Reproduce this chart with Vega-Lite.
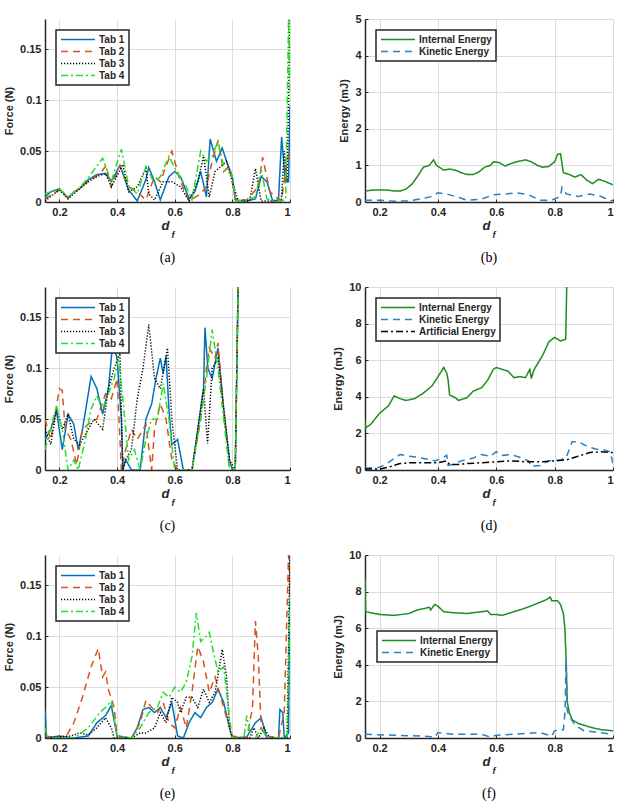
{
"$schema": "https://vega.github.io/schema/vega-lite/v6.json",
"background": "white",
"padding": {"left": 3, "top": 13, "right": 5, "bottom": 5},
"columns": 2,
"spacing": {"row": 85, "column": 75},
"bounds": "flush",
"align": "each",
"resolve": {"scale": {"color": "independent", "strokeDash": "independent"}, "legend": {"color": "independent", "strokeDash": "independent"}},
"datasets": {
"a": [
{"s":"Tab 1","x":0.15,"y":0.005},{"s":"Tab 1","x":0.17,"y":0.01},{"s":"Tab 1","x":0.2,"y":0.013},{"s":"Tab 1","x":0.23,"y":0.004},{"s":"Tab 1","x":0.25,"y":0.01},{"s":"Tab 1","x":0.27,"y":0.013},{"s":"Tab 1","x":0.3,"y":0.022},{"s":"Tab 1","x":0.33,"y":0.027},{"s":"Tab 1","x":0.36,"y":0.028},{"s":"Tab 1","x":0.38,"y":0.02},{"s":"Tab 1","x":0.41,"y":0.036},{"s":"Tab 1","x":0.44,"y":0.012},{"s":"Tab 1","x":0.47,"y":0.001},{"s":"Tab 1","x":0.5,"y":0.022},{"s":"Tab 1","x":0.51,"y":0.034},{"s":"Tab 1","x":0.53,"y":0.02},{"s":"Tab 1","x":0.55,"y":0.002},{"s":"Tab 1","x":0.58,"y":0.025},{"s":"Tab 1","x":0.6,"y":0.03},{"s":"Tab 1","x":0.62,"y":0.025},{"s":"Tab 1","x":0.65,"y":0.003},{"s":"Tab 1","x":0.67,"y":0.01},{"s":"Tab 1","x":0.69,"y":0.03},{"s":"Tab 1","x":0.71,"y":0.005},{"s":"Tab 1","x":0.723,"y":0.062},{"s":"Tab 1","x":0.745,"y":0.04},{"s":"Tab 1","x":0.765,"y":0.053},{"s":"Tab 1","x":0.78,"y":0.04},{"s":"Tab 1","x":0.8,"y":0.025},{"s":"Tab 1","x":0.81,"y":0.002},{"s":"Tab 1","x":0.85,"y":0.001},{"s":"Tab 1","x":0.88,"y":0.003},{"s":"Tab 1","x":0.9,"y":0.025},{"s":"Tab 1","x":0.92,"y":0.02},{"s":"Tab 1","x":0.94,"y":0.001},{"s":"Tab 1","x":0.96,"y":0.002},{"s":"Tab 1","x":0.971,"y":0.064},{"s":"Tab 1","x":0.984,"y":0.02},{"s":"Tab 1","x":0.995,"y":0.02},{"s":"Tab 1","x":1.0,"y":0.095},
{"s":"Tab 2","x":0.15,"y":0.003},{"s":"Tab 2","x":0.2,"y":0.012},{"s":"Tab 2","x":0.23,"y":0.004},{"s":"Tab 2","x":0.27,"y":0.014},{"s":"Tab 2","x":0.3,"y":0.02},{"s":"Tab 2","x":0.34,"y":0.028},{"s":"Tab 2","x":0.36,"y":0.035},{"s":"Tab 2","x":0.38,"y":0.015},{"s":"Tab 2","x":0.41,"y":0.035},{"s":"Tab 2","x":0.44,"y":0.015},{"s":"Tab 2","x":0.47,"y":0.01},{"s":"Tab 2","x":0.5,"y":0.002},{"s":"Tab 2","x":0.53,"y":0.025},{"s":"Tab 2","x":0.55,"y":0.02},{"s":"Tab 2","x":0.59,"y":0.05},{"s":"Tab 2","x":0.62,"y":0.02},{"s":"Tab 2","x":0.65,"y":0.001},{"s":"Tab 2","x":0.69,"y":0.008},{"s":"Tab 2","x":0.71,"y":0.015},{"s":"Tab 2","x":0.73,"y":0.04},{"s":"Tab 2","x":0.75,"y":0.06},{"s":"Tab 2","x":0.77,"y":0.03},{"s":"Tab 2","x":0.79,"y":0.035},{"s":"Tab 2","x":0.81,"y":0.003},{"s":"Tab 2","x":0.85,"y":0.002},{"s":"Tab 2","x":0.89,"y":0.015},{"s":"Tab 2","x":0.905,"y":0.044},{"s":"Tab 2","x":0.93,"y":0.01},{"s":"Tab 2","x":0.95,"y":0.005},{"s":"Tab 2","x":0.97,"y":0.001},{"s":"Tab 2","x":0.99,"y":0.04},{"s":"Tab 2","x":1.0,"y":0.05},
{"s":"Tab 3","x":0.15,"y":0.001},{"s":"Tab 3","x":0.2,"y":0.012},{"s":"Tab 3","x":0.23,"y":0.003},{"s":"Tab 3","x":0.27,"y":0.013},{"s":"Tab 3","x":0.3,"y":0.02},{"s":"Tab 3","x":0.33,"y":0.025},{"s":"Tab 3","x":0.36,"y":0.028},{"s":"Tab 3","x":0.38,"y":0.015},{"s":"Tab 3","x":0.42,"y":0.037},{"s":"Tab 3","x":0.44,"y":0.01},{"s":"Tab 3","x":0.47,"y":0.015},{"s":"Tab 3","x":0.5,"y":0.033},{"s":"Tab 3","x":0.51,"y":0.008},{"s":"Tab 3","x":0.53,"y":0.002},{"s":"Tab 3","x":0.56,"y":0.02},{"s":"Tab 3","x":0.59,"y":0.02},{"s":"Tab 3","x":0.62,"y":0.015},{"s":"Tab 3","x":0.65,"y":0.001},{"s":"Tab 3","x":0.68,"y":0.02},{"s":"Tab 3","x":0.7,"y":0.045},{"s":"Tab 3","x":0.72,"y":0.005},{"s":"Tab 3","x":0.74,"y":0.03},{"s":"Tab 3","x":0.76,"y":0.035},{"s":"Tab 3","x":0.78,"y":0.04},{"s":"Tab 3","x":0.8,"y":0.02},{"s":"Tab 3","x":0.82,"y":0.001},{"s":"Tab 3","x":0.86,"y":0.001},{"s":"Tab 3","x":0.88,"y":0.033},{"s":"Tab 3","x":0.9,"y":0.001},{"s":"Tab 3","x":0.93,"y":0.001},{"s":"Tab 3","x":0.97,"y":0.001},{"s":"Tab 3","x":0.98,"y":0.05},{"s":"Tab 3","x":0.99,"y":0.02},{"s":"Tab 3","x":1.0,"y":0.18},
{"s":"Tab 4","x":0.15,"y":0.008},{"s":"Tab 4","x":0.2,"y":0.013},{"s":"Tab 4","x":0.23,"y":0.005},{"s":"Tab 4","x":0.27,"y":0.014},{"s":"Tab 4","x":0.3,"y":0.024},{"s":"Tab 4","x":0.35,"y":0.043},{"s":"Tab 4","x":0.38,"y":0.02},{"s":"Tab 4","x":0.415,"y":0.052},{"s":"Tab 4","x":0.44,"y":0.016},{"s":"Tab 4","x":0.47,"y":0.008},{"s":"Tab 4","x":0.5,"y":0.035},{"s":"Tab 4","x":0.53,"y":0.018},{"s":"Tab 4","x":0.55,"y":0.025},{"s":"Tab 4","x":0.58,"y":0.045},{"s":"Tab 4","x":0.61,"y":0.028},{"s":"Tab 4","x":0.64,"y":0.015},{"s":"Tab 4","x":0.66,"y":0.002},{"s":"Tab 4","x":0.69,"y":0.05},{"s":"Tab 4","x":0.71,"y":0.04},{"s":"Tab 4","x":0.73,"y":0.045},{"s":"Tab 4","x":0.75,"y":0.06},{"s":"Tab 4","x":0.77,"y":0.035},{"s":"Tab 4","x":0.8,"y":0.025},{"s":"Tab 4","x":0.81,"y":0.001},{"s":"Tab 4","x":0.85,"y":0.002},{"s":"Tab 4","x":0.88,"y":0.005},{"s":"Tab 4","x":0.9,"y":0.032},{"s":"Tab 4","x":0.92,"y":0.003},{"s":"Tab 4","x":0.96,"y":0.001},{"s":"Tab 4","x":0.985,"y":0.002},{"s":"Tab 4","x":0.995,"y":0.18},{"s":"Tab 4","x":1.0,"y":0.1}
],
"b": [
{"s":"Internal Energy","x":0.15,"y":0.3},{"s":"Internal Energy","x":0.18,"y":0.33},{"s":"Internal Energy","x":0.22,"y":0.33},{"s":"Internal Energy","x":0.25,"y":0.3},{"s":"Internal Energy","x":0.27,"y":0.3},{"s":"Internal Energy","x":0.29,"y":0.35},{"s":"Internal Energy","x":0.31,"y":0.48},{"s":"Internal Energy","x":0.33,"y":0.7},{"s":"Internal Energy","x":0.35,"y":0.95},{"s":"Internal Energy","x":0.37,"y":1.0},{"s":"Internal Energy","x":0.385,"y":1.15},{"s":"Internal Energy","x":0.395,"y":1.0},{"s":"Internal Energy","x":0.42,"y":0.87},{"s":"Internal Energy","x":0.44,"y":0.9},{"s":"Internal Energy","x":0.46,"y":0.87},{"s":"Internal Energy","x":0.48,"y":0.8},{"s":"Internal Energy","x":0.5,"y":0.75},{"s":"Internal Energy","x":0.52,"y":0.75},{"s":"Internal Energy","x":0.54,"y":0.82},{"s":"Internal Energy","x":0.56,"y":0.95},{"s":"Internal Energy","x":0.58,"y":1.0},{"s":"Internal Energy","x":0.59,"y":1.1},{"s":"Internal Energy","x":0.61,"y":1.08},{"s":"Internal Energy","x":0.63,"y":0.98},{"s":"Internal Energy","x":0.65,"y":1.05},{"s":"Internal Energy","x":0.67,"y":1.1},{"s":"Internal Energy","x":0.7,"y":1.15},{"s":"Internal Energy","x":0.72,"y":1.1},{"s":"Internal Energy","x":0.74,"y":1.0},{"s":"Internal Energy","x":0.76,"y":0.95},{"s":"Internal Energy","x":0.78,"y":0.97},{"s":"Internal Energy","x":0.8,"y":1.1},{"s":"Internal Energy","x":0.81,"y":1.3},{"s":"Internal Energy","x":0.82,"y":1.32},{"s":"Internal Energy","x":0.83,"y":0.8},{"s":"Internal Energy","x":0.85,"y":0.75},{"s":"Internal Energy","x":0.87,"y":0.68},{"s":"Internal Energy","x":0.89,"y":0.75},{"s":"Internal Energy","x":0.91,"y":0.6},{"s":"Internal Energy","x":0.93,"y":0.5},{"s":"Internal Energy","x":0.95,"y":0.62},{"s":"Internal Energy","x":0.97,"y":0.57},{"s":"Internal Energy","x":1.0,"y":0.47},
{"s":"Kinetic Energy","x":0.15,"y":0.05},{"s":"Kinetic Energy","x":0.2,"y":0.05},{"s":"Kinetic Energy","x":0.25,"y":0.02},{"s":"Kinetic Energy","x":0.3,"y":0.03},{"s":"Kinetic Energy","x":0.35,"y":0.1},{"s":"Kinetic Energy","x":0.38,"y":0.15},{"s":"Kinetic Energy","x":0.4,"y":0.25},{"s":"Kinetic Energy","x":0.43,"y":0.22},{"s":"Kinetic Energy","x":0.46,"y":0.15},{"s":"Kinetic Energy","x":0.5,"y":0.05},{"s":"Kinetic Energy","x":0.55,"y":0.08},{"s":"Kinetic Energy","x":0.59,"y":0.2},{"s":"Kinetic Energy","x":0.63,"y":0.22},{"s":"Kinetic Energy","x":0.67,"y":0.25},{"s":"Kinetic Energy","x":0.71,"y":0.2},{"s":"Kinetic Energy","x":0.75,"y":0.05},{"s":"Kinetic Energy","x":0.79,"y":0.05},{"s":"Kinetic Energy","x":0.81,"y":0.12},{"s":"Kinetic Energy","x":0.82,"y":0.15},{"s":"Kinetic Energy","x":0.825,"y":0.4},{"s":"Kinetic Energy","x":0.84,"y":0.22},{"s":"Kinetic Energy","x":0.88,"y":0.15},{"s":"Kinetic Energy","x":0.92,"y":0.22},{"s":"Kinetic Energy","x":0.96,"y":0.15},{"s":"Kinetic Energy","x":0.99,"y":0.03},{"s":"Kinetic Energy","x":1.0,"y":0.05}
],
"c": [
{"s":"Tab 1","x":0.15,"y":0.03},{"s":"Tab 1","x":0.17,"y":0.04},{"s":"Tab 1","x":0.19,"y":0.058},{"s":"Tab 1","x":0.21,"y":0.02},{"s":"Tab 1","x":0.23,"y":0.055},{"s":"Tab 1","x":0.25,"y":0.045},{"s":"Tab 1","x":0.265,"y":0.02},{"s":"Tab 1","x":0.28,"y":0.04},{"s":"Tab 1","x":0.31,"y":0.092},{"s":"Tab 1","x":0.33,"y":0.08},{"s":"Tab 1","x":0.35,"y":0.055},{"s":"Tab 1","x":0.37,"y":0.08},{"s":"Tab 1","x":0.385,"y":0.125},{"s":"Tab 1","x":0.4,"y":0.11},{"s":"Tab 1","x":0.415,"y":0.05},{"s":"Tab 1","x":0.42,"y":0.0},{"s":"Tab 1","x":0.43,"y":0.01},{"s":"Tab 1","x":0.45,"y":0.0},{"s":"Tab 1","x":0.48,"y":0.0},{"s":"Tab 1","x":0.5,"y":0.05},{"s":"Tab 1","x":0.52,"y":0.065},{"s":"Tab 1","x":0.535,"y":0.09},{"s":"Tab 1","x":0.55,"y":0.11},{"s":"Tab 1","x":0.56,"y":0.095},{"s":"Tab 1","x":0.57,"y":0.112},{"s":"Tab 1","x":0.58,"y":0.06},{"s":"Tab 1","x":0.59,"y":0.025},{"s":"Tab 1","x":0.61,"y":0.03},{"s":"Tab 1","x":0.63,"y":0.0},{"s":"Tab 1","x":0.66,"y":0.0},{"s":"Tab 1","x":0.68,"y":0.04},{"s":"Tab 1","x":0.7,"y":0.08},{"s":"Tab 1","x":0.705,"y":0.14},{"s":"Tab 1","x":0.715,"y":0.1},{"s":"Tab 1","x":0.73,"y":0.09},{"s":"Tab 1","x":0.75,"y":0.12},{"s":"Tab 1","x":0.77,"y":0.06},{"s":"Tab 1","x":0.79,"y":0.01},{"s":"Tab 1","x":0.8,"y":0.0},{"s":"Tab 1","x":0.81,"y":0.0},{"s":"Tab 1","x":0.82,"y":0.18},
{"s":"Tab 2","x":0.15,"y":0.05},{"s":"Tab 2","x":0.17,"y":0.03},{"s":"Tab 2","x":0.2,"y":0.08},{"s":"Tab 2","x":0.21,"y":0.078},{"s":"Tab 2","x":0.22,"y":0.04},{"s":"Tab 2","x":0.24,"y":0.03},{"s":"Tab 2","x":0.26,"y":0.005},{"s":"Tab 2","x":0.28,"y":0.04},{"s":"Tab 2","x":0.3,"y":0.045},{"s":"Tab 2","x":0.33,"y":0.05},{"s":"Tab 2","x":0.36,"y":0.075},{"s":"Tab 2","x":0.38,"y":0.07},{"s":"Tab 2","x":0.4,"y":0.09},{"s":"Tab 2","x":0.415,"y":0.0},{"s":"Tab 2","x":0.43,"y":0.02},{"s":"Tab 2","x":0.45,"y":0.04},{"s":"Tab 2","x":0.47,"y":0.03},{"s":"Tab 2","x":0.5,"y":0.045},{"s":"Tab 2","x":0.52,"y":0.0},{"s":"Tab 2","x":0.53,"y":0.04},{"s":"Tab 2","x":0.55,"y":0.065},{"s":"Tab 2","x":0.57,"y":0.05},{"s":"Tab 2","x":0.59,"y":0.01},{"s":"Tab 2","x":0.61,"y":0.0},{"s":"Tab 2","x":0.66,"y":0.0},{"s":"Tab 2","x":0.69,"y":0.05},{"s":"Tab 2","x":0.71,"y":0.1},{"s":"Tab 2","x":0.72,"y":0.12},{"s":"Tab 2","x":0.74,"y":0.11},{"s":"Tab 2","x":0.75,"y":0.125},{"s":"Tab 2","x":0.77,"y":0.06},{"s":"Tab 2","x":0.79,"y":0.0},{"s":"Tab 2","x":0.81,"y":0.0},{"s":"Tab 2","x":0.82,"y":0.18},
{"s":"Tab 3","x":0.15,"y":0.04},{"s":"Tab 3","x":0.17,"y":0.025},{"s":"Tab 3","x":0.19,"y":0.06},{"s":"Tab 3","x":0.21,"y":0.04},{"s":"Tab 3","x":0.23,"y":0.055},{"s":"Tab 3","x":0.25,"y":0.03},{"s":"Tab 3","x":0.27,"y":0.025},{"s":"Tab 3","x":0.3,"y":0.04},{"s":"Tab 3","x":0.32,"y":0.05},{"s":"Tab 3","x":0.35,"y":0.04},{"s":"Tab 3","x":0.37,"y":0.08},{"s":"Tab 3","x":0.39,"y":0.1},{"s":"Tab 3","x":0.41,"y":0.115},{"s":"Tab 3","x":0.42,"y":0.0},{"s":"Tab 3","x":0.43,"y":0.01},{"s":"Tab 3","x":0.45,"y":0.02},{"s":"Tab 3","x":0.47,"y":0.07},{"s":"Tab 3","x":0.49,"y":0.1},{"s":"Tab 3","x":0.51,"y":0.143},{"s":"Tab 3","x":0.53,"y":0.09},{"s":"Tab 3","x":0.55,"y":0.08},{"s":"Tab 3","x":0.575,"y":0.12},{"s":"Tab 3","x":0.59,"y":0.05},{"s":"Tab 3","x":0.61,"y":0.0},{"s":"Tab 3","x":0.66,"y":0.0},{"s":"Tab 3","x":0.68,"y":0.04},{"s":"Tab 3","x":0.7,"y":0.08},{"s":"Tab 3","x":0.714,"y":0.026},{"s":"Tab 3","x":0.73,"y":0.1},{"s":"Tab 3","x":0.75,"y":0.11},{"s":"Tab 3","x":0.77,"y":0.06},{"s":"Tab 3","x":0.79,"y":0.01},{"s":"Tab 3","x":0.81,"y":0.0},{"s":"Tab 3","x":0.82,"y":0.18},
{"s":"Tab 4","x":0.15,"y":0.02},{"s":"Tab 4","x":0.19,"y":0.063},{"s":"Tab 4","x":0.21,"y":0.04},{"s":"Tab 4","x":0.23,"y":0.0},{"s":"Tab 4","x":0.25,"y":0.01},{"s":"Tab 4","x":0.265,"y":0.0},{"s":"Tab 4","x":0.29,"y":0.03},{"s":"Tab 4","x":0.31,"y":0.06},{"s":"Tab 4","x":0.33,"y":0.073},{"s":"Tab 4","x":0.35,"y":0.06},{"s":"Tab 4","x":0.37,"y":0.075},{"s":"Tab 4","x":0.39,"y":0.09},{"s":"Tab 4","x":0.405,"y":0.11},{"s":"Tab 4","x":0.42,"y":0.07},{"s":"Tab 4","x":0.44,"y":0.01},{"s":"Tab 4","x":0.46,"y":0.02},{"s":"Tab 4","x":0.48,"y":0.0},{"s":"Tab 4","x":0.5,"y":0.03},{"s":"Tab 4","x":0.52,"y":0.05},{"s":"Tab 4","x":0.54,"y":0.05},{"s":"Tab 4","x":0.56,"y":0.085},{"s":"Tab 4","x":0.58,"y":0.05},{"s":"Tab 4","x":0.6,"y":0.0},{"s":"Tab 4","x":0.66,"y":0.0},{"s":"Tab 4","x":0.69,"y":0.05},{"s":"Tab 4","x":0.71,"y":0.09},{"s":"Tab 4","x":0.73,"y":0.138},{"s":"Tab 4","x":0.75,"y":0.1},{"s":"Tab 4","x":0.77,"y":0.05},{"s":"Tab 4","x":0.79,"y":0.0},{"s":"Tab 4","x":0.81,"y":0.0},{"s":"Tab 4","x":0.82,"y":0.18}
],
"d": [
{"s":"Internal Energy","x":0.15,"y":2.7},{"s":"Internal Energy","x":0.152,"y":2.3},{"s":"Internal Energy","x":0.17,"y":2.5},{"s":"Internal Energy","x":0.2,"y":3.1},{"s":"Internal Energy","x":0.23,"y":3.5},{"s":"Internal Energy","x":0.25,"y":4.05},{"s":"Internal Energy","x":0.27,"y":3.9},{"s":"Internal Energy","x":0.29,"y":3.8},{"s":"Internal Energy","x":0.32,"y":3.9},{"s":"Internal Energy","x":0.35,"y":4.2},{"s":"Internal Energy","x":0.38,"y":4.6},{"s":"Internal Energy","x":0.4,"y":5.1},{"s":"Internal Energy","x":0.42,"y":5.6},{"s":"Internal Energy","x":0.43,"y":5.3},{"s":"Internal Energy","x":0.435,"y":4.9},{"s":"Internal Energy","x":0.44,"y":4.1},{"s":"Internal Energy","x":0.46,"y":3.95},{"s":"Internal Energy","x":0.47,"y":3.8},{"s":"Internal Energy","x":0.5,"y":3.95},{"s":"Internal Energy","x":0.52,"y":4.3},{"s":"Internal Energy","x":0.55,"y":4.5},{"s":"Internal Energy","x":0.57,"y":4.9},{"s":"Internal Energy","x":0.59,"y":5.5},{"s":"Internal Energy","x":0.6,"y":5.6},{"s":"Internal Energy","x":0.62,"y":5.5},{"s":"Internal Energy","x":0.64,"y":5.4},{"s":"Internal Energy","x":0.66,"y":5.05},{"s":"Internal Energy","x":0.68,"y":5.1},{"s":"Internal Energy","x":0.7,"y":5.05},{"s":"Internal Energy","x":0.715,"y":5.5},{"s":"Internal Energy","x":0.72,"y":5.0},{"s":"Internal Energy","x":0.73,"y":5.5},{"s":"Internal Energy","x":0.76,"y":6.3},{"s":"Internal Energy","x":0.78,"y":7.0},{"s":"Internal Energy","x":0.8,"y":7.25},{"s":"Internal Energy","x":0.82,"y":7.05},{"s":"Internal Energy","x":0.838,"y":7.15},{"s":"Internal Energy","x":0.842,"y":10.5},
{"s":"Kinetic Energy","x":0.15,"y":0.1},{"s":"Kinetic Energy","x":0.2,"y":0.15},{"s":"Kinetic Energy","x":0.22,"y":0.3},{"s":"Kinetic Energy","x":0.27,"y":0.85},{"s":"Kinetic Energy","x":0.3,"y":0.75},{"s":"Kinetic Energy","x":0.33,"y":0.7},{"s":"Kinetic Energy","x":0.36,"y":0.6},{"s":"Kinetic Energy","x":0.39,"y":0.5},{"s":"Kinetic Energy","x":0.42,"y":0.7},{"s":"Kinetic Energy","x":0.43,"y":0.8},{"s":"Kinetic Energy","x":0.435,"y":0.25},{"s":"Kinetic Energy","x":0.45,"y":0.3},{"s":"Kinetic Energy","x":0.48,"y":0.5},{"s":"Kinetic Energy","x":0.52,"y":0.65},{"s":"Kinetic Energy","x":0.55,"y":0.85},{"s":"Kinetic Energy","x":0.58,"y":0.75},{"s":"Kinetic Energy","x":0.6,"y":1.0},{"s":"Kinetic Energy","x":0.62,"y":0.8},{"s":"Kinetic Energy","x":0.65,"y":0.85},{"s":"Kinetic Energy","x":0.68,"y":0.7},{"s":"Kinetic Energy","x":0.71,"y":0.5},{"s":"Kinetic Energy","x":0.72,"y":0.2},{"s":"Kinetic Energy","x":0.75,"y":0.25},{"s":"Kinetic Energy","x":0.78,"y":0.5},{"s":"Kinetic Energy","x":0.82,"y":0.55},{"s":"Kinetic Energy","x":0.84,"y":0.7},{"s":"Kinetic Energy","x":0.86,"y":1.55},{"s":"Kinetic Energy","x":0.88,"y":1.55},{"s":"Kinetic Energy","x":0.91,"y":1.3},{"s":"Kinetic Energy","x":0.94,"y":1.15},{"s":"Kinetic Energy","x":0.97,"y":1.1},{"s":"Kinetic Energy","x":0.99,"y":1.0},{"s":"Kinetic Energy","x":1.0,"y":0.35},
{"s":"Artificial Energy","x":0.15,"y":0.05},{"s":"Artificial Energy","x":0.2,"y":0.05},{"s":"Artificial Energy","x":0.23,"y":0.15},{"s":"Artificial Energy","x":0.27,"y":0.35},{"s":"Artificial Energy","x":0.3,"y":0.4},{"s":"Artificial Energy","x":0.35,"y":0.4},{"s":"Artificial Energy","x":0.4,"y":0.4},{"s":"Artificial Energy","x":0.43,"y":0.5},{"s":"Artificial Energy","x":0.44,"y":0.3},{"s":"Artificial Energy","x":0.47,"y":0.3},{"s":"Artificial Energy","x":0.5,"y":0.35},{"s":"Artificial Energy","x":0.55,"y":0.4},{"s":"Artificial Energy","x":0.6,"y":0.45},{"s":"Artificial Energy","x":0.65,"y":0.5},{"s":"Artificial Energy","x":0.7,"y":0.45},{"s":"Artificial Energy","x":0.75,"y":0.45},{"s":"Artificial Energy","x":0.8,"y":0.5},{"s":"Artificial Energy","x":0.84,"y":0.55},{"s":"Artificial Energy","x":0.88,"y":0.75},{"s":"Artificial Energy","x":0.92,"y":0.95},{"s":"Artificial Energy","x":0.96,"y":1.0},{"s":"Artificial Energy","x":1.0,"y":0.95}
],
"e": [
{"s":"Tab 1","x":0.15,"y":0.028},{"s":"Tab 1","x":0.155,"y":0.0},{"s":"Tab 1","x":0.2,"y":0.002},{"s":"Tab 1","x":0.25,"y":0.0},{"s":"Tab 1","x":0.3,"y":0.002},{"s":"Tab 1","x":0.33,"y":0.015},{"s":"Tab 1","x":0.36,"y":0.022},{"s":"Tab 1","x":0.38,"y":0.032},{"s":"Tab 1","x":0.4,"y":0.002},{"s":"Tab 1","x":0.45,"y":0.0},{"s":"Tab 1","x":0.47,"y":0.01},{"s":"Tab 1","x":0.49,"y":0.028},{"s":"Tab 1","x":0.51,"y":0.03},{"s":"Tab 1","x":0.53,"y":0.025},{"s":"Tab 1","x":0.55,"y":0.03},{"s":"Tab 1","x":0.57,"y":0.02},{"s":"Tab 1","x":0.59,"y":0.035},{"s":"Tab 1","x":0.61,"y":0.002},{"s":"Tab 1","x":0.63,"y":0.0},{"s":"Tab 1","x":0.65,"y":0.015},{"s":"Tab 1","x":0.67,"y":0.025},{"s":"Tab 1","x":0.69,"y":0.02},{"s":"Tab 1","x":0.71,"y":0.03},{"s":"Tab 1","x":0.73,"y":0.035},{"s":"Tab 1","x":0.75,"y":0.048},{"s":"Tab 1","x":0.77,"y":0.035},{"s":"Tab 1","x":0.79,"y":0.01},{"s":"Tab 1","x":0.8,"y":0.0},{"s":"Tab 1","x":0.85,"y":0.001},{"s":"Tab 1","x":0.88,"y":0.015},{"s":"Tab 1","x":0.9,"y":0.02},{"s":"Tab 1","x":0.92,"y":0.0},{"s":"Tab 1","x":0.96,"y":0.0},{"s":"Tab 1","x":0.965,"y":0.028},{"s":"Tab 1","x":0.975,"y":0.025},{"s":"Tab 1","x":0.98,"y":0.0},{"s":"Tab 1","x":0.995,"y":0.005},{"s":"Tab 1","x":1.0,"y":0.18},
{"s":"Tab 2","x":0.15,"y":0.002},{"s":"Tab 2","x":0.2,"y":0.0},{"s":"Tab 2","x":0.22,"y":0.0},{"s":"Tab 2","x":0.25,"y":0.015},{"s":"Tab 2","x":0.28,"y":0.04},{"s":"Tab 2","x":0.31,"y":0.07},{"s":"Tab 2","x":0.335,"y":0.088},{"s":"Tab 2","x":0.35,"y":0.06},{"s":"Tab 2","x":0.36,"y":0.065},{"s":"Tab 2","x":0.37,"y":0.048},{"s":"Tab 2","x":0.39,"y":0.03},{"s":"Tab 2","x":0.4,"y":0.002},{"s":"Tab 2","x":0.45,"y":0.0},{"s":"Tab 2","x":0.48,"y":0.015},{"s":"Tab 2","x":0.5,"y":0.037},{"s":"Tab 2","x":0.52,"y":0.03},{"s":"Tab 2","x":0.54,"y":0.025},{"s":"Tab 2","x":0.56,"y":0.035},{"s":"Tab 2","x":0.58,"y":0.015},{"s":"Tab 2","x":0.6,"y":0.01},{"s":"Tab 2","x":0.62,"y":0.03},{"s":"Tab 2","x":0.64,"y":0.01},{"s":"Tab 2","x":0.66,"y":0.045},{"s":"Tab 2","x":0.68,"y":0.09},{"s":"Tab 2","x":0.7,"y":0.075},{"s":"Tab 2","x":0.72,"y":0.045},{"s":"Tab 2","x":0.74,"y":0.06},{"s":"Tab 2","x":0.76,"y":0.04},{"s":"Tab 2","x":0.78,"y":0.02},{"s":"Tab 2","x":0.8,"y":0.002},{"s":"Tab 2","x":0.85,"y":0.0},{"s":"Tab 2","x":0.87,"y":0.03},{"s":"Tab 2","x":0.88,"y":0.115},{"s":"Tab 2","x":0.89,"y":0.08},{"s":"Tab 2","x":0.9,"y":0.01},{"s":"Tab 2","x":0.92,"y":0.002},{"s":"Tab 2","x":0.96,"y":0.0},{"s":"Tab 2","x":0.98,"y":0.025},{"s":"Tab 2","x":0.995,"y":0.18},{"s":"Tab 2","x":1.0,"y":0.14},
{"s":"Tab 3","x":0.15,"y":0.0},{"s":"Tab 3","x":0.24,"y":0.002},{"s":"Tab 3","x":0.27,"y":0.005},{"s":"Tab 3","x":0.3,"y":0.003},{"s":"Tab 3","x":0.33,"y":0.01},{"s":"Tab 3","x":0.36,"y":0.02},{"s":"Tab 3","x":0.38,"y":0.01},{"s":"Tab 3","x":0.39,"y":0.0},{"s":"Tab 3","x":0.45,"y":0.0},{"s":"Tab 3","x":0.48,"y":0.005},{"s":"Tab 3","x":0.5,"y":0.005},{"s":"Tab 3","x":0.53,"y":0.01},{"s":"Tab 3","x":0.55,"y":0.025},{"s":"Tab 3","x":0.57,"y":0.015},{"s":"Tab 3","x":0.59,"y":0.04},{"s":"Tab 3","x":0.61,"y":0.035},{"s":"Tab 3","x":0.62,"y":0.025},{"s":"Tab 3","x":0.64,"y":0.04},{"s":"Tab 3","x":0.66,"y":0.04},{"s":"Tab 3","x":0.68,"y":0.03},{"s":"Tab 3","x":0.7,"y":0.048},{"s":"Tab 3","x":0.72,"y":0.035},{"s":"Tab 3","x":0.74,"y":0.045},{"s":"Tab 3","x":0.765,"y":0.087},{"s":"Tab 3","x":0.78,"y":0.06},{"s":"Tab 3","x":0.79,"y":0.01},{"s":"Tab 3","x":0.8,"y":0.0},{"s":"Tab 3","x":0.86,"y":0.0},{"s":"Tab 3","x":0.875,"y":0.01},{"s":"Tab 3","x":0.89,"y":0.0},{"s":"Tab 3","x":0.91,"y":0.01},{"s":"Tab 3","x":0.93,"y":0.0},{"s":"Tab 3","x":0.99,"y":0.0},{"s":"Tab 3","x":1.0,"y":0.18},
{"s":"Tab 4","x":0.15,"y":0.01},{"s":"Tab 4","x":0.16,"y":0.0},{"s":"Tab 4","x":0.25,"y":0.0},{"s":"Tab 4","x":0.3,"y":0.01},{"s":"Tab 4","x":0.34,"y":0.025},{"s":"Tab 4","x":0.36,"y":0.03},{"s":"Tab 4","x":0.38,"y":0.036},{"s":"Tab 4","x":0.4,"y":0.002},{"s":"Tab 4","x":0.45,"y":0.0},{"s":"Tab 4","x":0.48,"y":0.01},{"s":"Tab 4","x":0.51,"y":0.025},{"s":"Tab 4","x":0.54,"y":0.03},{"s":"Tab 4","x":0.56,"y":0.045},{"s":"Tab 4","x":0.58,"y":0.04},{"s":"Tab 4","x":0.6,"y":0.05},{"s":"Tab 4","x":0.62,"y":0.045},{"s":"Tab 4","x":0.64,"y":0.055},{"s":"Tab 4","x":0.66,"y":0.08},{"s":"Tab 4","x":0.675,"y":0.123},{"s":"Tab 4","x":0.69,"y":0.095},{"s":"Tab 4","x":0.71,"y":0.1},{"s":"Tab 4","x":0.72,"y":0.104},{"s":"Tab 4","x":0.73,"y":0.09},{"s":"Tab 4","x":0.75,"y":0.065},{"s":"Tab 4","x":0.77,"y":0.07},{"s":"Tab 4","x":0.79,"y":0.02},{"s":"Tab 4","x":0.8,"y":0.0},{"s":"Tab 4","x":0.84,"y":0.0},{"s":"Tab 4","x":0.85,"y":0.022},{"s":"Tab 4","x":0.86,"y":0.005},{"s":"Tab 4","x":0.88,"y":0.0},{"s":"Tab 4","x":0.9,"y":0.01},{"s":"Tab 4","x":0.92,"y":0.0},{"s":"Tab 4","x":0.99,"y":0.0},{"s":"Tab 4","x":1.0,"y":0.14}
],
"f": [
{"s":"Internal Energy","x":0.15,"y":8.7},{"s":"Internal Energy","x":0.152,"y":6.9},{"s":"Internal Energy","x":0.2,"y":6.75},{"s":"Internal Energy","x":0.25,"y":6.7},{"s":"Internal Energy","x":0.3,"y":6.8},{"s":"Internal Energy","x":0.33,"y":7.0},{"s":"Internal Energy","x":0.36,"y":7.1},{"s":"Internal Energy","x":0.37,"y":7.15},{"s":"Internal Energy","x":0.375,"y":7.0},{"s":"Internal Energy","x":0.389,"y":7.3},{"s":"Internal Energy","x":0.4,"y":7.2},{"s":"Internal Energy","x":0.42,"y":6.9},{"s":"Internal Energy","x":0.45,"y":6.85},{"s":"Internal Energy","x":0.5,"y":6.8},{"s":"Internal Energy","x":0.52,"y":6.85},{"s":"Internal Energy","x":0.55,"y":6.9},{"s":"Internal Energy","x":0.57,"y":6.95},{"s":"Internal Energy","x":0.58,"y":6.75},{"s":"Internal Energy","x":0.6,"y":6.75},{"s":"Internal Energy","x":0.62,"y":6.7},{"s":"Internal Energy","x":0.65,"y":6.85},{"s":"Internal Energy","x":0.7,"y":7.1},{"s":"Internal Energy","x":0.74,"y":7.35},{"s":"Internal Energy","x":0.77,"y":7.55},{"s":"Internal Energy","x":0.785,"y":7.7},{"s":"Internal Energy","x":0.79,"y":7.5},{"s":"Internal Energy","x":0.81,"y":7.5},{"s":"Internal Energy","x":0.82,"y":7.3},{"s":"Internal Energy","x":0.83,"y":6.8},{"s":"Internal Energy","x":0.835,"y":6.0},{"s":"Internal Energy","x":0.84,"y":4.0},{"s":"Internal Energy","x":0.843,"y":2.0},{"s":"Internal Energy","x":0.85,"y":1.4},{"s":"Internal Energy","x":0.86,"y":1.0},{"s":"Internal Energy","x":0.88,"y":0.8},{"s":"Internal Energy","x":0.92,"y":0.6},{"s":"Internal Energy","x":0.96,"y":0.45},{"s":"Internal Energy","x":1.0,"y":0.4},
{"s":"Kinetic Energy","x":0.15,"y":0.2},{"s":"Kinetic Energy","x":0.25,"y":0.15},{"s":"Kinetic Energy","x":0.35,"y":0.1},{"s":"Kinetic Energy","x":0.39,"y":0.05},{"s":"Kinetic Energy","x":0.4,"y":0.3},{"s":"Kinetic Energy","x":0.45,"y":0.2},{"s":"Kinetic Energy","x":0.55,"y":0.2},{"s":"Kinetic Energy","x":0.58,"y":0.05},{"s":"Kinetic Energy","x":0.6,"y":0.15},{"s":"Kinetic Energy","x":0.7,"y":0.25},{"s":"Kinetic Energy","x":0.75,"y":0.3},{"s":"Kinetic Energy","x":0.79,"y":0.1},{"s":"Kinetic Energy","x":0.8,"y":0.4},{"s":"Kinetic Energy","x":0.83,"y":0.45},{"s":"Kinetic Energy","x":0.836,"y":1.5},{"s":"Kinetic Energy","x":0.839,"y":4.3},{"s":"Kinetic Energy","x":0.843,"y":1.5},{"s":"Kinetic Energy","x":0.85,"y":1.2},{"s":"Kinetic Energy","x":0.87,"y":0.7},{"s":"Kinetic Energy","x":0.9,"y":0.4},{"s":"Kinetic Energy","x":0.95,"y":0.3},{"s":"Kinetic Energy","x":1.0,"y":0.2}
]
},
"concat": [
{"width": 245, "height": 183, "title": {"text": "(a)"}, "data": {"name": "a"},
 "resolve": {"axis": {"x": "independent"}},
 "layer": [
  {"mark": {"type": "line", "strokeWidth": 1.5, "clip": true},
   "encoding": {
    "x": {"field": "x", "type": "quantitative", "scale": {"domain": [0.15, 1], "nice": false, "zero": false}, "axis": {"orient": "bottom", "values": [0.2,0.4,0.6,0.8,1], "format": "~r", "title": "d", "titleX": 120}},
    "y": {"field": "y", "type": "quantitative", "scale": {"domain": [0, 0.18], "nice": false}, "axis": {"values": [0,0.05,0.1,0.15], "format": "~r", "title": "Force (N)"}},
    "color": {"field": "s", "type": "nominal", "scale": {"domain": ["Tab 1","Tab 2","Tab 3","Tab 4"], "range": ["#0072BD","#D95319","#000000","#22E022"]}, "legend": {"title": null, "orient": "top-left"}},
    "strokeDash": {"field": "s", "type": "nominal", "scale": {"domain": ["Tab 1","Tab 2","Tab 3","Tab 4"], "range": [[1,0],[7,5],[1.2,1.8],[7,3,2,3]]}, "legend": {"title": null, "orient": "top-left"}}
   }},
  {"mark": {"type": "rule", "opacity": 0},
   "encoding": {"x": {"field": "x", "type": "quantitative", "scale": {"domain": [0.15, 1], "nice": false, "zero": false}, "axis": {"orient": "bottom", "title": "f", "labels": false, "ticks": false, "domain": false, "grid": false, "titleFontSize": 9, "titleX": 126, "titleY": 35, "titleAlign": "left", "titleBaseline": "alphabetic"}}}}
 ]},
{"width": 248, "height": 183, "title": {"text": "(b)"}, "data": {"name": "b"},
 "resolve": {"axis": {"x": "independent"}},
 "layer": [
  {"mark": {"type": "line", "strokeWidth": 1.5, "clip": true},
   "encoding": {
    "x": {"field": "x", "type": "quantitative", "scale": {"domain": [0.15, 1], "nice": false, "zero": false}, "axis": {"orient": "bottom", "values": [0.2,0.4,0.6,0.8,1], "format": "~r", "title": "d", "titleX": 121}},
    "y": {"field": "y", "type": "quantitative", "scale": {"domain": [0, 5], "nice": false}, "axis": {"values": [0,1,2,3,4,5], "format": "~r", "title": "Energy (mJ)"}},
    "color": {"field": "s", "type": "nominal", "scale": {"domain": ["Internal Energy","Kinetic Energy"], "range": ["#1E8C1E","#2B7FC3"]}, "legend": {"title": null, "orient": "top-left"}},
    "strokeDash": {"field": "s", "type": "nominal", "scale": {"domain": ["Internal Energy","Kinetic Energy"], "range": [[1,0],[7,5]]}, "legend": {"title": null, "orient": "top-left"}}
   }},
  {"mark": {"type": "rule", "opacity": 0},
   "encoding": {"x": {"field": "x", "type": "quantitative", "scale": {"domain": [0.15, 1], "nice": false, "zero": false}, "axis": {"orient": "bottom", "title": "f", "labels": false, "ticks": false, "domain": false, "grid": false, "titleFontSize": 9, "titleX": 127, "titleY": 35, "titleAlign": "left", "titleBaseline": "alphabetic"}}}}
 ]},
{"width": 245, "height": 183, "title": {"text": "(c)"}, "data": {"name": "c"},
 "resolve": {"axis": {"x": "independent"}},
 "layer": [
  {"mark": {"type": "line", "strokeWidth": 1.5, "clip": true},
   "encoding": {
    "x": {"field": "x", "type": "quantitative", "scale": {"domain": [0.15, 1], "nice": false, "zero": false}, "axis": {"orient": "bottom", "values": [0.2,0.4,0.6,0.8,1], "format": "~r", "title": "d", "titleX": 120}},
    "y": {"field": "y", "type": "quantitative", "scale": {"domain": [0, 0.18], "nice": false}, "axis": {"values": [0,0.05,0.1,0.15], "format": "~r", "title": "Force (N)"}},
    "color": {"field": "s", "type": "nominal", "scale": {"domain": ["Tab 1","Tab 2","Tab 3","Tab 4"], "range": ["#0072BD","#D95319","#000000","#22E022"]}, "legend": {"title": null, "orient": "top-left"}},
    "strokeDash": {"field": "s", "type": "nominal", "scale": {"domain": ["Tab 1","Tab 2","Tab 3","Tab 4"], "range": [[1,0],[7,5],[1.2,1.8],[7,3,2,3]]}, "legend": {"title": null, "orient": "top-left"}}
   }},
  {"mark": {"type": "rule", "opacity": 0},
   "encoding": {"x": {"field": "x", "type": "quantitative", "scale": {"domain": [0.15, 1], "nice": false, "zero": false}, "axis": {"orient": "bottom", "title": "f", "labels": false, "ticks": false, "domain": false, "grid": false, "titleFontSize": 9, "titleX": 126, "titleY": 35, "titleAlign": "left", "titleBaseline": "alphabetic"}}}}
 ]},
{"width": 248, "height": 183, "title": {"text": "(d)"}, "data": {"name": "d"},
 "resolve": {"axis": {"x": "independent"}},
 "layer": [
  {"mark": {"type": "line", "strokeWidth": 1.5, "clip": true},
   "encoding": {
    "x": {"field": "x", "type": "quantitative", "scale": {"domain": [0.15, 1], "nice": false, "zero": false}, "axis": {"orient": "bottom", "values": [0.2,0.4,0.6,0.8,1], "format": "~r", "title": "d", "titleX": 121}},
    "y": {"field": "y", "type": "quantitative", "scale": {"domain": [0, 10], "nice": false}, "axis": {"values": [0,2,4,6,8,10], "format": "~r", "title": "Energy (mJ)"}},
    "color": {"field": "s", "type": "nominal", "scale": {"domain": ["Internal Energy","Kinetic Energy","Artificial Energy"], "range": ["#1E8C1E","#2B7FC3","#000000"]}, "legend": {"title": null, "orient": "top-left"}},
    "strokeDash": {"field": "s", "type": "nominal", "scale": {"domain": ["Internal Energy","Kinetic Energy","Artificial Energy"], "range": [[1,0],[7,5],[7,3,2,3]]}, "legend": {"title": null, "orient": "top-left"}}
   }},
  {"mark": {"type": "rule", "opacity": 0},
   "encoding": {"x": {"field": "x", "type": "quantitative", "scale": {"domain": [0.15, 1], "nice": false, "zero": false}, "axis": {"orient": "bottom", "title": "f", "labels": false, "ticks": false, "domain": false, "grid": false, "titleFontSize": 9, "titleX": 127, "titleY": 35, "titleAlign": "left", "titleBaseline": "alphabetic"}}}}
 ]},
{"width": 245, "height": 183, "title": {"text": "(e)"}, "data": {"name": "e"},
 "resolve": {"axis": {"x": "independent"}},
 "layer": [
  {"mark": {"type": "line", "strokeWidth": 1.5, "clip": true},
   "encoding": {
    "x": {"field": "x", "type": "quantitative", "scale": {"domain": [0.15, 1], "nice": false, "zero": false}, "axis": {"orient": "bottom", "values": [0.2,0.4,0.6,0.8,1], "format": "~r", "title": "d", "titleX": 120}},
    "y": {"field": "y", "type": "quantitative", "scale": {"domain": [0, 0.18], "nice": false}, "axis": {"values": [0,0.05,0.1,0.15], "format": "~r", "title": "Force (N)"}},
    "color": {"field": "s", "type": "nominal", "scale": {"domain": ["Tab 1","Tab 2","Tab 3","Tab 4"], "range": ["#0072BD","#D95319","#000000","#22E022"]}, "legend": {"title": null, "orient": "top-left"}},
    "strokeDash": {"field": "s", "type": "nominal", "scale": {"domain": ["Tab 1","Tab 2","Tab 3","Tab 4"], "range": [[1,0],[7,5],[1.2,1.8],[7,3,2,3]]}, "legend": {"title": null, "orient": "top-left"}}
   }},
  {"mark": {"type": "rule", "opacity": 0},
   "encoding": {"x": {"field": "x", "type": "quantitative", "scale": {"domain": [0.15, 1], "nice": false, "zero": false}, "axis": {"orient": "bottom", "title": "f", "labels": false, "ticks": false, "domain": false, "grid": false, "titleFontSize": 9, "titleX": 126, "titleY": 35, "titleAlign": "left", "titleBaseline": "alphabetic"}}}}
 ]},
{"width": 248, "height": 183, "title": {"text": "(f)"}, "data": {"name": "f"},
 "resolve": {"axis": {"x": "independent"}},
 "layer": [
  {"mark": {"type": "line", "strokeWidth": 1.5, "clip": true},
   "encoding": {
    "x": {"field": "x", "type": "quantitative", "scale": {"domain": [0.15, 1], "nice": false, "zero": false}, "axis": {"orient": "bottom", "values": [0.2,0.4,0.6,0.8,1], "format": "~r", "title": "d", "titleX": 121}},
    "y": {"field": "y", "type": "quantitative", "scale": {"domain": [0, 10], "nice": false}, "axis": {"values": [0,2,4,6,8,10], "format": "~r", "title": "Energy (mJ)"}},
    "color": {"field": "s", "type": "nominal", "scale": {"domain": ["Internal Energy","Kinetic Energy"], "range": ["#1E8C1E","#2B7FC3"]}, "legend": {"title": null, "orient": "none", "legendX": 12, "legendY": 76}},
    "strokeDash": {"field": "s", "type": "nominal", "scale": {"domain": ["Internal Energy","Kinetic Energy"], "range": [[1,0],[7,5]]}, "legend": {"title": null, "orient": "none", "legendX": 12, "legendY": 76}}
   }},
  {"mark": {"type": "rule", "opacity": 0},
   "encoding": {"x": {"field": "x", "type": "quantitative", "scale": {"domain": [0.15, 1], "nice": false, "zero": false}, "axis": {"orient": "bottom", "title": "f", "labels": false, "ticks": false, "domain": false, "grid": false, "titleFontSize": 9, "titleX": 127, "titleY": 35, "titleAlign": "left", "titleBaseline": "alphabetic"}}}}
 ]}
],
"config": {
 "font": "Liberation Sans",
 "view": {"stroke": null},
 "axis": {
  "labelFont": "Liberation Sans", "labelFontWeight": "bold", "labelFontSize": 11, "labelColor": "#262626",
  "titleFont": "Liberation Sans", "titleFontWeight": "bold", "titleFontSize": 11, "titleColor": "#262626",
  "domainColor": "#262626", "domainWidth": 1.5,
  "gridColor": "#dcdcdc", "gridWidth": 1,
  "tickColor": "#262626", "tickSize": -3, "tickWidth": 1,
  "labelPadding": 7
 },
 "axisX": {"titleFontStyle": "italic", "titleFontSize": 13, "titlePadding": 2},
 "axisY": {"titlePadding": 5},
 "legend": {
  "labelFont": "Liberation Sans", "labelFontWeight": "bold", "labelFontSize": 10, "labelColor": "#262626",
  "symbolType": "stroke", "symbolSize": 1156, "symbolStrokeWidth": 1.5,
  "clipHeight": 11, "rowPadding": 1, "padding": 4, "offset": 11, "labelOffset": 3,
  "strokeColor": "#262626", "fillColor": "white", "strokeWidth": 1.5
 },
 "title": {"orient": "bottom", "font": "Liberation Serif", "fontSize": 14, "fontWeight": "normal", "color": "black", "offset": 12, "anchor": "middle"}
}
}
